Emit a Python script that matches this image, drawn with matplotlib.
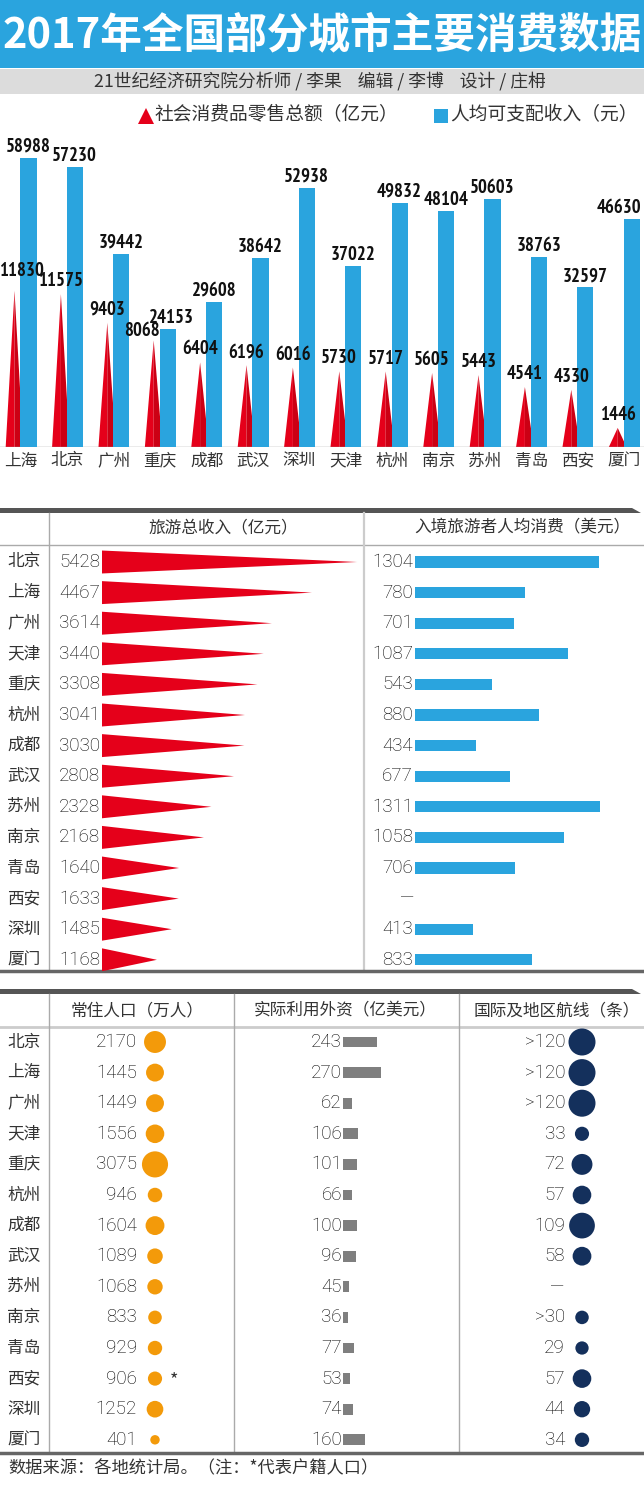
import numpy as np
import matplotlib
matplotlib.use('Agg')
from matplotlib import pyplot as plt
from matplotlib import transforms
from matplotlib import font_manager as fm
from matplotlib.patches import Rectangle, Polygon

plt.rcParams['font.family'] = ['Noto Sans CJK SC', 'DejaVu Sans']

# ---- data ----
cities_top = ['上海', '北京', '广州', '重庆', '成都', '武汉', '深圳',
              '天津', '杭州', '南京', '苏州', '青岛', '西安', '厦门']
retail = [11830, 11575, 9403, 8068, 6404, 6196, 6016,
          5730, 5717, 5605, 5443, 4541, 4330, 1446]
income = [58988, 57230, 39442, 24153, 29608, 38642, 52938,
          37022, 49832, 48104, 50603, 38763, 32597, 46630]

cities = ['北京', '上海', '广州', '天津', '重庆', '杭州', '成都',
          '武汉', '苏州', '南京', '青岛', '西安', '深圳', '厦门']
tourism = [5428, 4467, 3614, 3440, 3308, 3041, 3030,
           2808, 2328, 2168, 1640, 1633, 1485, 1168]
inbound = [1304, 780, 701, 1087, 543, 880, 434,
           677, 1311, 1058, 706, np.nan, 413, 833]
population = [2170, 1445, 1449, 1556, 3075, 946, 1604,
              1089, 1068, 833, 929, 906, 1252, 401]
fdi = [243, 270, 62, 106, 101, 66, 100, 96, 45, 36, 77, 53, 74, 160]
routes = [120, 120, 120, 33, 72, 57, 109, 58, np.nan, 30, 29, 57, 44, 34]
routes_txt = ['>120', '>120', '>120', '33', '72', '57', '109',
              '58', '—', '>30', '29', '57', '44', '34']

# label nudges (px) where the original moved labels by hand
red_nudge = {'上海': (7, 7), '重庆': (-12, -3)}
blue_nudge = {'重庆': (4, 0), '厦门': (-13, 0)}

RED = '#e5001a'
BLUE = '#2aa4de'
ORANGE = '#f39a0a'
NAVY = '#14305c'
GRAY = '#7f7f7f'
TXT = '#333333'

W, H = 644, 1498
fig = plt.figure(figsize=(W / 100, H / 100), dpi=100)


def box(l, t, r, b):
    ax = fig.add_axes([l / W, 1 - b / H, (r - l) / W, (b - t) / H])
    ax.patch.set_visible(False)
    return ax


def pt(px):
    return px * 0.72


def weight_of(f):
    w = f.weight
    if isinstance(w, str):
        return 700 if 'bold' in w else 400
    return w


# a narrow bold face for the big value labels, if one is installed
narrow = [f for f in fm.fontManager.ttflist
          if weight_of(f) >= 700 and f.style == 'normal'
          and ('Narrow' in f.name or 'Condensed' in f.fname or 'Narrow' in f.fname
               or f.stretch in ('condensed', 'semi-condensed'))]
narrow.sort(key=lambda f: ('Narrow' not in f.fname and 'Narrow' not in f.name, f.fname))
if narrow:
    big_fp = fm.FontProperties(fname=narrow[0].fname)
    big_size = 13.5 if 'Narrow' in narrow[0].fname or 'Narrow' in narrow[0].name else 11.5
else:
    big_fp = fm.FontProperties(family='DejaVu Sans', weight='bold')
    big_size = 10

canvas = box(0, 0, W, H)
canvas.set_xlim(0, W)
canvas.set_ylim(H, 0)
canvas.axis('off')

NUM = dict(family=['Roboto', 'DejaVu Sans'], weight='light', fontsize=13.5, color='#000000')
CJK = dict(family=['Noto Sans CJK SC', 'DejaVu Sans'], color=TXT)
BIG = dict(fontproperties=big_fp, fontsize=big_size, color='#111111')

# ---- header ----
canvas.add_patch(Rectangle((0, 0), W, 68, color=BLUE, lw=0))
canvas.add_patch(Rectangle((0, 69), W, 25, color='#dcdcdc', lw=0))
canvas.text(322, 35, '2017年全国部分城市主要消费数据', ha='center', va='center',
            fontsize=30, weight='bold', color='white')
canvas.text(320, 81, '21世纪经济研究院分析师 / 李果    编辑 / 李博    设计 / 庄枏',
            ha='center', va='center', fontsize=12.8, **CJK)

canvas.plot(146, 116, marker='^', ms=11.5, color=RED, mew=0)
canvas.text(155, 115, '社会消费品零售总额（亿元）', ha='left', va='center', fontsize=13.5, **CJK)
canvas.plot(441, 116, marker='s', ms=10, color=BLUE, mew=0)
canvas.text(450, 115, '人均可支配收入（元）', ha='left', va='center', fontsize=13.5, **CJK)

# ---- chart 1: retail triangles and income bars ----
ax_r = box(0, 130, W, 447)
ax_r.set_xlim(-21 / 46.4, (W - 21) / 46.4)
ax_r.set_ylim(0, 317 / 0.0132)
ax_r.axis('off')
ax_b = ax_r.twinx()
ax_b.set_ylim(0, 317 / 0.0049)
ax_b.axis('off')

x = np.arange(len(cities_top))
for i, v in enumerate(retail):
    c = i - 0.14
    ax_r.fill([c - 0.19, c, c], [0, v, 0], color=RED, lw=0)
    ax_r.fill([c, c, c + 0.19], [0, v, 0], color='#cc0014', lw=0)
ax_b.bar(x + 0.16, income, width=0.35, color=BLUE, lw=0)
for i, v in enumerate(income):
    dx, dy = blue_nudge.get(cities_top[i], (0, 0))
    ax_b.annotate(str(v), (i + 0.16, v), xytext=(pt(dx), pt(2 + dy)), textcoords='offset points',
                  ha='center', va='bottom', **BIG)
# retail labels go on the upper axes so they sit above the blue bars
for i, v in enumerate(retail):
    dx, dy = red_nudge.get(cities_top[i], (0, 0))
    ax_b.annotate(str(v), (i - 0.14, v), xycoords=ax_r.transData,
                  xytext=(pt(dx), pt(4 + dy)), textcoords='offset points',
                  ha='center', va='bottom', **BIG)
ax_r.axhline(0, color='#999999', lw=1)
for i, name in enumerate(cities_top):
    ax_r.annotate(name, (i, 0), xytext=(0, pt(-14)), textcoords='offset points',
                  ha='center', va='center', fontsize=12, **CJK)

# ---- section 2: tourism table ----
canvas.add_patch(Polygon([(0, 508), (632, 508), (641, 513), (0, 513)], color='#555555', lw=0))
canvas.plot([0, W], [545, 545], color='#aaaaaa', lw=1)
canvas.plot([49, 49], [513, 971], color='#aaaaaa', lw=1)
canvas.plot([364, 364], [513, 971], color='#cccccc', lw=1.6)
canvas.plot([0, W], [971, 971], color='#666666', lw=2.5)
canvas.text(223, 528, '旅游总收入（亿元）', ha='center', va='center', fontsize=12, **CJK)
canvas.text(522, 528, '入境旅游者人均消费（美元）', ha='center', va='center', fontsize=12, **CJK)

rows = np.arange(len(cities))
ylim2 = ((971 - 562) / 30.6, (545 - 562) / 30.6)

ax_t = box(102, 545, 364, 971)
ax_t.set_xlim(0, 262 / 0.047)
ax_t.set_ylim(*ylim2)
ax_t.axis('off')
for i, v in enumerate(tourism):
    ax_t.fill([0, v, 0], [i - 0.375, i, i + 0.375], color=RED, lw=0)
    ax_t.annotate(str(v), (0, i), xytext=(pt(-2), 0), textcoords='offset points',
                  ha='right', va='center', **NUM)

rowtr = transforms.blended_transform_factory(canvas.transData, ax_t.transData)
for i, name in enumerate(cities):
    canvas.text(24, i, name, transform=rowtr, ha='center', va='center', fontsize=12, **CJK)

ax_s = box(415, 545, W, 971)
ax_s.set_xlim(0, (W - 415) / 0.141)
ax_s.set_ylim(*ylim2)
ax_s.axis('off')
ax_s.barh(rows, np.nan_to_num(inbound), height=0.36, color=BLUE, lw=0)
for i, v in enumerate(inbound):
    s = '—' if np.isnan(v) else str(int(v))
    ax_s.annotate(s, (0, i), xytext=(pt(-2), 0), textcoords='offset points',
                  ha='right', va='center', **NUM)

# ---- section 3: population / fdi / routes ----
canvas.add_patch(Polygon([(0, 989), (632, 989), (641, 994), (0, 994)], color='#555555', lw=0))
canvas.plot([0, W], [1027, 1027], color='#cccccc', lw=2)
for xv in (49, 234, 459):
    canvas.plot([xv, xv], [994, 1453], color='#aaaaaa', lw=1)
canvas.plot([0, W], [1453, 1453], color='#666666', lw=2.5)
canvas.text(137, 1011, '常住人口（万人）', ha='center', va='center', fontsize=12, **CJK)
canvas.text(345, 1011, '实际利用外资（亿美元）', ha='center', va='center', fontsize=12, **CJK)
canvas.text(557, 1011, '国际及地区航线（条）', ha='center', va='center', fontsize=12, **CJK)

ylim3 = ((1453 - 1042) / 30.6, (1027 - 1042) / 30.6)

ax_p = box(49, 1027, 234, 1453)
ax_p.set_xlim(-106, 79)
ax_p.set_ylim(*ylim3)
ax_p.axis('off')
ax_p.scatter(np.zeros(len(rows)), rows, s=np.array(population) * 0.115, color=ORANGE, lw=0)
for i, v in enumerate(population):
    ax_p.annotate(str(v), (0, i), xytext=(pt(-18), 0), textcoords='offset points',
                  ha='right', va='center', **NUM)
ax_p.annotate('*', (0, cities.index('西安')), xytext=(pt(19), pt(-2)), textcoords='offset points',
              ha='center', va='center', fontsize=13, color=TXT)

rowtr3 = transforms.blended_transform_factory(canvas.transData, ax_p.transData)
for i, name in enumerate(cities):
    canvas.text(24, i, name, transform=rowtr3, ha='center', va='center', fontsize=12, **CJK)

ax_f = box(234, 1027, 459, 1453)
ax_f.set_xlim(-(343 - 234) / 0.14, (459 - 343) / 0.14)
ax_f.set_ylim(*ylim3)
ax_f.axis('off')
ax_f.barh(rows, fdi, height=0.35, color=GRAY, lw=0)
for i, v in enumerate(fdi):
    ax_f.annotate(str(v), (0, i), xytext=(pt(-1), 0), textcoords='offset points',
                  ha='right', va='center', **NUM)

ax_a = box(459, 1027, W, 1453)
ax_a.set_xlim(-123, 62)
ax_a.set_ylim(*ylim3)
ax_a.axis('off')
ax_a.scatter(np.zeros(len(rows)), rows, s=np.nan_to_num(routes) * 3.15, color=NAVY, lw=0)
for i, s in enumerate(routes_txt):
    off = -26 if s == '—' else -17
    ax_a.annotate(s, (0, i), xytext=(pt(off), 0), textcoords='offset points',
                  ha='right' if s != '—' else 'center', va='center', **NUM)

# ---- footer ----
canvas.text(8, 1468, '数据来源：各地统计局。（注：*代表户籍人口）', ha='left', va='center',
            fontsize=12.4, **CJK)

fig.savefig('out.png', dpi=100)
